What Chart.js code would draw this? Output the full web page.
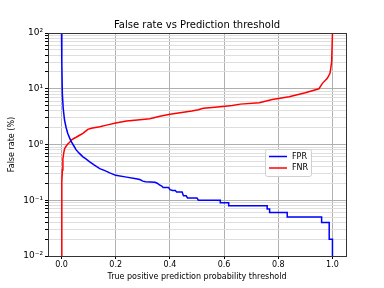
<!DOCTYPE html>
<html>
<head>
<meta charset="utf-8">
<script src="https://cdn.jsdelivr.net/npm/chart.js@4.4.1/dist/chart.umd.min.js"></script>
<style>
  html, body { margin: 0; padding: 0; background: #fff; }
  canvas { display: block; }
</style>
</head>
<body>
<canvas id="rates" width="384" height="288"></canvas>
<script>
// threshold / rate (%) pairs
const fprX = [0, 0.001, 0.003, 0.006, 0.011, 0.017, 0.023, 0.03, 0.036, 0.045, 0.054, 0.065, 0.079, 0.09, 0.104, 0.12, 0.141, 0.16, 0.178, 0.2, 0.24, 0.27, 0.289, 0.3, 0.31, 0.345, 0.355, 0.36, 0.37, 0.375, 0.395, 0.4, 0.41, 0.42, 0.425, 0.445, 0.45, 0.46, 0.465, 0.5, 0.505, 0.586, 0.586, 0.617, 0.617, 0.759, 0.759, 0.768, 0.768, 0.833, 0.833, 0.96, 0.96, 0.988, 0.988, 1.0, 1.0];
const fprY = [100, 30, 8, 4.5, 2.75, 2.0, 1.58, 1.3, 1.12, 0.95, 0.8, 0.7, 0.6, 0.55, 0.49, 0.43, 0.37, 0.34, 0.31, 0.28, 0.26, 0.245, 0.235, 0.22, 0.215, 0.21, 0.2, 0.19, 0.18, 0.17, 0.17, 0.155, 0.15, 0.15, 0.14, 0.14, 0.12, 0.12, 0.11, 0.11, 0.1, 0.1, 0.09, 0.09, 0.08, 0.08, 0.07, 0.07, 0.06, 0.06, 0.05, 0.05, 0.04, 0.04, 0.02, 0.02, 0.0001];

const fnrX = [0, 0.001, 0.003, 0.005, 0.008, 0.011, 0.016, 0.023, 0.03, 0.036, 0.045, 0.054, 0.065, 0.079, 0.088, 0.097, 0.11, 0.141, 0.17, 0.2, 0.24, 0.28, 0.326, 0.363, 0.4, 0.45, 0.481, 0.505, 0.523, 0.556, 0.604, 0.63, 0.66, 0.73, 0.778, 0.84, 0.9, 0.95, 0.963, 0.981, 0.991, 0.997, 1.0, 1.0];
const fnrY = [0.0001, 0.21, 0.35, 0.55, 0.7, 0.83, 0.92, 1.02, 1.1, 1.2, 1.28, 1.35, 1.45, 1.58, 1.72, 1.87, 1.95, 2.09, 2.25, 2.42, 2.63, 2.75, 2.9, 3.2, 3.5, 3.8, 3.98, 4.2, 4.46, 4.6, 4.85, 5.0, 5.3, 5.6, 6.4, 7.2, 8.5, 10.0, 12.5, 15.4, 18.9, 30, 100, 200];

const xTicks = [0, 0.2, 0.4, 0.6, 0.8, 1.0];
const yDecades = [0.01, 0.1, 1, 10, 100];
const yDecadeLabels = ['10⁻²', '10⁻¹', '10⁰', '10¹', '10²'];

// log ticks: 1..9 per decade, only the decades get a label
const yTicks = [];
yDecades.forEach(function (d, i) {
	const last = i === yDecades.length - 1;
	for (let m = 1; m <= (last ? 1 : 9); m++) {
		yTicks.push({ value: m * d, major: m === 1, label: m === 1 ? yDecadeLabels[i] : '' });
	}
});

const font = 'DejaVu Sans';

const frameAndLegend = {
	id: 'frameAndLegend',
	afterDraw(chart) {
		const c = chart.ctx;
		const a = chart.chartArea;
		c.save();

		// axes frame
		c.strokeStyle = '#333';
		c.lineWidth = 1;
		c.strokeRect(Math.round(a.left) + 0.5, Math.round(a.top) + 0.5, Math.round(a.right - a.left), Math.round(a.bottom - a.top));

		// title over the plot area
		c.fillStyle = '#000';
		c.font = '10px "' + font + '"';
		c.textAlign = 'center';
		c.textBaseline = 'middle';
		c.fillText('False rate vs Prediction threshold', (a.left + a.right) / 2, a.top - 8);

		// legend box
		const bx = a.right - 81, by = a.top + 116, bw = 46, bh = 27;
		c.fillStyle = 'rgba(255,255,255,0.85)';
		c.strokeStyle = '#d0d0d0';
		c.beginPath();
		c.roundRect(bx + 0.5, by + 0.5, bw, bh, 2);
		c.fill();
		c.stroke();

		c.font = '8px "' + font + '"';
		c.textAlign = 'left';
		chart.data.datasets.forEach(function (ds, i) {
			const ry = by + 7.5 + i * 11.5;
			c.strokeStyle = ds.borderColor;
			c.lineWidth = 1.5;
			c.beginPath();
			c.moveTo(bx + 4, ry);
			c.lineTo(bx + 22, ry);
			c.stroke();
			c.fillStyle = '#000';
			c.fillText(ds.label, bx + 27, ry);
		});
		c.restore();
	}
};

new Chart(document.getElementById('rates'), {
	type: 'line',
	data: {
		datasets: [
			{
				label: 'FPR',
				data: fprX.map((x, i) => ({ x: x, y: fprY[i] })),
				borderColor: '#0000ff',
				borderWidth: 1.5,
				pointRadius: 0,
				tension: 0
			},
			{
				label: 'FNR',
				data: fnrX.map((x, i) => ({ x: x, y: fnrY[i] })),
				borderColor: '#ff0000',
				borderWidth: 1.5,
				pointRadius: 0,
				tension: 0
			}
		]
	},
	options: {
		responsive: false,
		animation: false,
		layout: { padding: { top: 33, right: 38, left: 0, bottom: 0 } },
		plugins: {
			legend: { display: false },
			title: { display: false },
			tooltip: { enabled: false }
		},
		scales: {
			x: {
				type: 'linear',
				min: -0.05,
				max: 1.05,
				afterBuildTicks: (s) => { s.ticks = xTicks.map(v => ({ value: v })); },
				afterFit: (s) => { s.height = 32; },
				ticks: {
					autoSkip: false,
					maxRotation: 0,
					padding: 1,
					color: '#000',
					font: { family: font, size: 8 },
					callback: (v) => Number(v).toFixed(1)
				},
				grid: { color: '#b0b0b0', tickLength: 3, tickColor: '#000' },
				border: { display: false },
				title: {
					display: true,
					text: 'True positive prediction probability threshold',
					color: '#000',
					font: { family: font, size: 8 },
					padding: { top: 0, bottom: 6 }
				}
			},
			y: {
				type: 'logarithmic',
				min: 0.01,
				max: 100,
				afterBuildTicks: (s) => { s.ticks = yTicks.map(t => ({ value: t.value, major: t.major })); },
				afterFit: (s) => { s.width = 48; },
				ticks: {
					autoSkip: false,
					padding: 2,
					color: '#000',
					font: { family: font, size: 9 },
					callback: (v, i) => yTicks[i].label
				},
				grid: {
					color: (c) => (c.tick && c.tick.major ? '#b0b0b0' : '#dedede'),
					tickLength: 3,
					tickColor: '#000'
				},
				border: { display: false },
				title: {
					display: true,
					text: 'False rate (%)',
					color: '#000',
					font: { family: font, size: 8 },
					padding: { top: 7, bottom: 0 }
				}
			}
		}
	},
	plugins: [frameAndLegend]
});
</script>
</body>
</html>
